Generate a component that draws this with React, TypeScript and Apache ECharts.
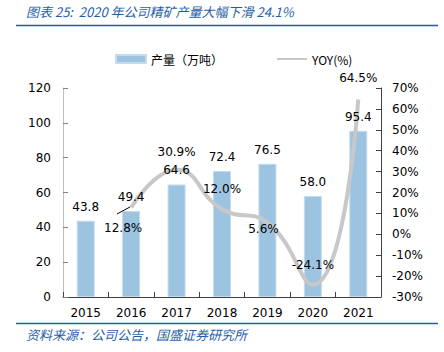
import React, { useEffect, useRef } from "react";
import * as echarts from "echarts";

const years = ["2015", "2016", "2017", "2018", "2019", "2020", "2021"];
const output = [43.8, 49.4, 64.6, 72.4, 76.5, 58.0, 95.4];
const yoy: (number | null)[] = [null, 12.8, 30.9, 12.0, 5.6, -24.1, 64.5];
const yoyLabelOffsets: [number, number][] = [[0, 0], [-8, 20], [0, -18], [0, -20], [-4, 6], [0, -20], [0, -21]];

export default function App() {
  const ref = useRef<HTMLDivElement>(null);
  useEffect(() => {
    const chart = echarts.init(ref.current!, null, { renderer: "svg" });
    const font = "DejaVu Sans, Verdana, sans-serif";
    const blue = "#1f5fa8";
    chart.setOption({
      animation: false,
      textStyle: { fontFamily: font },
      grid: { left: 63, right: 63, top: 88, bottom: 55 },
      legend: {
        top: 48,
        left: 110,
        itemGap: 53,
        itemWidth: 30,
        itemHeight: 8,
        textStyle: { fontSize: 12, color: "#000", fontFamily: "Noto Sans CJK SC, " + font },
        data: [
          { name: "产量（万吨）", icon: "rect" },
          { name: "YOY(%)" },
        ],
      },
      xAxis: {
        type: "category",
        data: years,
        axisLine: { lineStyle: { color: "#404040", width: 1 } },
        axisTick: { show: true, inside: true, alignWithLabel: false, lineStyle: { color: "#404040" } },
        axisLabel: { color: "#000", fontSize: 12, margin: 10 },
      },
      yAxis: [
        {
          type: "value",
          min: 0,
          max: 120,
          interval: 20,
          splitLine: { show: false },
          axisLine: { show: true, lineStyle: { color: "#bfbfbf", width: 1 } },
          axisTick: { show: true, inside: true, lineStyle: { color: "#808080" } },
          axisLabel: { color: "#000", fontSize: 12, margin: 12 },
        },
        {
          type: "value",
          min: -30,
          max: 70,
          interval: 10,
          splitLine: { show: false },
          axisLine: { show: true, lineStyle: { color: "#404040", width: 1 } },
          axisTick: { show: true, inside: true, lineStyle: { color: "#404040" } },
          axisLabel: { color: "#000", fontSize: 12, margin: 11, formatter: "{value}%" },
        },
      ],
      series: [
        {
          name: "产量（万吨）",
          type: "bar",
          data: output,
          barWidth: 18,
          itemStyle: { color: "#9cc3e0", borderColor: "#c5dcee", borderWidth: 1 },
          z: 2,
        },
        {
          name: "YOY(%)",
          type: "line",
          yAxisIndex: 1,
          smooth: 0.5,
          symbol: "circle",
          symbolSize: 0.1,
          showSymbol: true,
          lineStyle: { color: "#c8c8c8", width: 4 },
          itemStyle: { color: "rgba(0,0,0,0)" },
          data: yoy.map((v, i) =>
            v === null
              ? null
              : {
                  value: v,
                  label: {
                    show: true,
                    position: "inside",
                    offset: yoyLabelOffsets[i],
                    color: "#000",
                    fontSize: 12,
                    formatter: v.toFixed(1) + "%",
                  },
                }
          ),
          z: 3,
        },
        {
          name: "barLabels",
          type: "bar",
          data: output,
          barWidth: 18,
          barGap: "-100%",
          itemStyle: { color: "rgba(0,0,0,0)" },
          label: { show: true, position: "top", distance: 8, color: "#000", fontSize: 12, formatter: (p: any) => p.value.toFixed(1) },
          z: 5,
        },
      ],
      graphic: [
        {
          type: "text",
          left: 26,
          top: 5,
          style: { text: "图表 25:  2020 年公司精矿产量大幅下滑 24.1%", fill: blue, font: "italic 13px 'Noto Sans CJK SC', sans-serif" },
        },
        { type: "line", shape: { x1: 16, y1: 25.5, x2: 438, y2: 25.5 }, style: { stroke: blue, lineWidth: 1.5 } },
        { type: "line", shape: { x1: 16, y1: 323.5, x2: 438, y2: 323.5 }, style: { stroke: blue, lineWidth: 1.5 } },
        {
          type: "text",
          left: 26,
          top: 328,
          style: { text: "资料来源：公司公告，国盛证券研究所", fill: blue, font: "italic 13px 'Noto Sans CJK SC', sans-serif" },
        },
        { type: "line", shape: { x1: 117, y1: 214, x2: 130, y2: 207 }, style: { stroke: "#000", lineWidth: 1 }, z: 10 },
      ],
    });
    return () => chart.dispose();
  }, []);
  return <div ref={ref} style={{ position: "absolute", left: 0, top: 0, width: 444, height: 352 }} />;
}
